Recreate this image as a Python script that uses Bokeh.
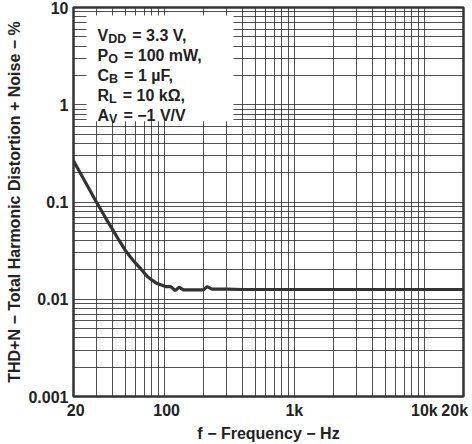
from bokeh.plotting import figure
from bokeh.models import FixedTicker, Label, BoxAnnotation, Range1d
from bokeh.embed import file_html
from bokeh.resources import INLINE

# ---- data ----
freq = [20, 25, 30, 35, 40, 45, 50, 55, 60, 66, 74, 80, 88, 95, 102, 112,
        121, 130, 140, 160, 200, 213, 233, 300, 400, 1000, 2000, 5000, 10000, 20000]
thd = [0.265, 0.155, 0.1, 0.07, 0.052, 0.040, 0.032, 0.027, 0.0235, 0.0205, 0.0171,
       0.0158, 0.0145, 0.014, 0.0135, 0.0135, 0.0123, 0.0133, 0.0125, 0.0125, 0.0125,
       0.0135, 0.0127, 0.0127, 0.0126, 0.0126, 0.0126, 0.0126, 0.0126, 0.0126]

x_ticks = [20, 100, 1000, 10000, 20000]
x_tick_labels = ["20", "100", "1k", "10k", "20k"]
y_ticks = [0.001, 0.01, 0.1, 1, 10]
y_tick_labels = ["0.001", "0.01", "0.1", "1", "10"]

cond_main = ["V", "P", "C", "R", "A"]
cond_sub = ["DD", "O", "B", "L", "V"]
cond_rest = ["= 3.3 V,", "= 100 mW,", "= 1 \u00b5F,", "= 10 k\u03a9,", "= \u22121 V/V"]

x_title = "f \u2212 Frequency \u2212 Hz"
y_title = "THD+N \u2212 Total Harmonic Distortion + Noise \u2212 %"

# ---- styling / layout ----
FONT = "Liberation Sans"
DARK = "#333333"
TXT = "#222222"
W, H = 472, 444
BL, BR, BT, BB = 73, 9, 7, 47
FW, FH = W - BL - BR, H - BT - BB

p = figure(width=W, height=H, x_axis_type="log", y_axis_type="log",
           x_range=Range1d(20, 20000), y_range=Range1d(0.001, 10),
           output_backend="svg", toolbar_location=None,
           min_border_left=BL, min_border_right=BR,
           min_border_top=BT, min_border_bottom=BB)
p.background_fill_color = "white"
p.border_fill_color = "white"
p.outline_line_color = DARK
p.outline_line_width = 2.5

grid_x = [m * 10 ** e for e in range(1, 5) for m in range(1, 10) if 20 <= m * 10 ** e <= 20000]
grid_y = [m * 10.0 ** e for e in range(-3, 2) for m in range(1, 10) if m * 10.0 ** e <= 10]
p.xgrid.ticker = FixedTicker(ticks=grid_x)
p.ygrid.ticker = FixedTicker(ticks=grid_y)
for g in (p.xgrid, p.ygrid):
    g.grid_line_color = DARK
    g.grid_line_width = 1
    g.grid_line_alpha = 0.85

# axes
p.xaxis.ticker = FixedTicker(ticks=x_ticks, minor_ticks=[])
p.yaxis.ticker = FixedTicker(ticks=y_ticks, minor_ticks=[])
nb = "\u00a0"
x_over = {}
for t, lab in zip(x_ticks, x_tick_labels):
    if lab in ("20", "100"):
        lab = nb + lab
    elif lab == "20k":
        lab = lab + nb
    x_over[t] = lab
p.xaxis.major_label_overrides = x_over
p.yaxis.major_label_overrides = {t: lab for t, lab in zip(y_ticks, y_tick_labels)}

for ax in (p.xaxis[0], p.yaxis[0]):
    ax.axis_line_color = None
    ax.major_tick_line_color = None
    ax.minor_tick_line_color = None
    ax.major_tick_out = 0
    ax.major_tick_in = 0
    ax.major_label_text_font = FONT
    ax.major_label_text_font_style = "bold"
    ax.major_label_text_font_size = "16px"
    ax.major_label_text_color = TXT
    ax.axis_label_text_font = FONT
    ax.axis_label_text_font_style = "bold"
    ax.axis_label_text_font_size = "16px"
    ax.axis_label_text_color = TXT

p.xaxis.axis_label = x_title
p.yaxis.axis_label = y_title
p.xaxis.major_label_standoff = 5
p.xaxis.axis_label_standoff = 3
p.yaxis.major_label_standoff = 5
p.yaxis.axis_label_standoff = 2

# curve
p.line(freq, thd, line_color=DARK, line_width=3.2)

# white box behind the conditions
def xpix(px):
    return 20 * 1000 ** (px / FW)

def ypix(py):
    return 10 * (1e-4) ** (py / FH)

p.add_layout(BoxAnnotation(left=xpix(13), right=xpix(160), top=ypix(8), bottom=ypix(114),
                           fill_color="white", fill_alpha=1.0, line_color=None,
                           level="annotation"))

# condition text (main letter + subscript + rest)
EM = {"V": 0.667, "P": 0.667, "C": 0.722, "R": 0.722, "A": 0.722,
      "D": 0.722, "O": 0.778, "B": 0.722, "L": 0.611}
MAIN_FS, SUB_FS = 16, 12.5
for i, (m, s, r) in enumerate(zip(cond_main, cond_sub, cond_rest)):
    base = -(28 + 20 * i)
    x0 = 24
    x1 = x0 + EM[m] * MAIN_FS
    x2 = x1 + sum(EM[c] for c in s) * SUB_FS + 0.1 * MAIN_FS
    for txt, xo, yo, fs in ((m, x0, base, MAIN_FS), (s, x1, base - 3, SUB_FS),
                            (nb + r, x2, base, MAIN_FS)):
        p.add_layout(Label(x=20, y=10, x_offset=xo, y_offset=yo, text=txt,
                           text_font=FONT, text_font_style="bold",
                           text_font_size=f"{fs}px", text_color=TXT,
                           text_baseline="alphabetic", text_align="left",
                           level="overlay"))

open("out.html", "w").write(file_html(p, INLINE))
